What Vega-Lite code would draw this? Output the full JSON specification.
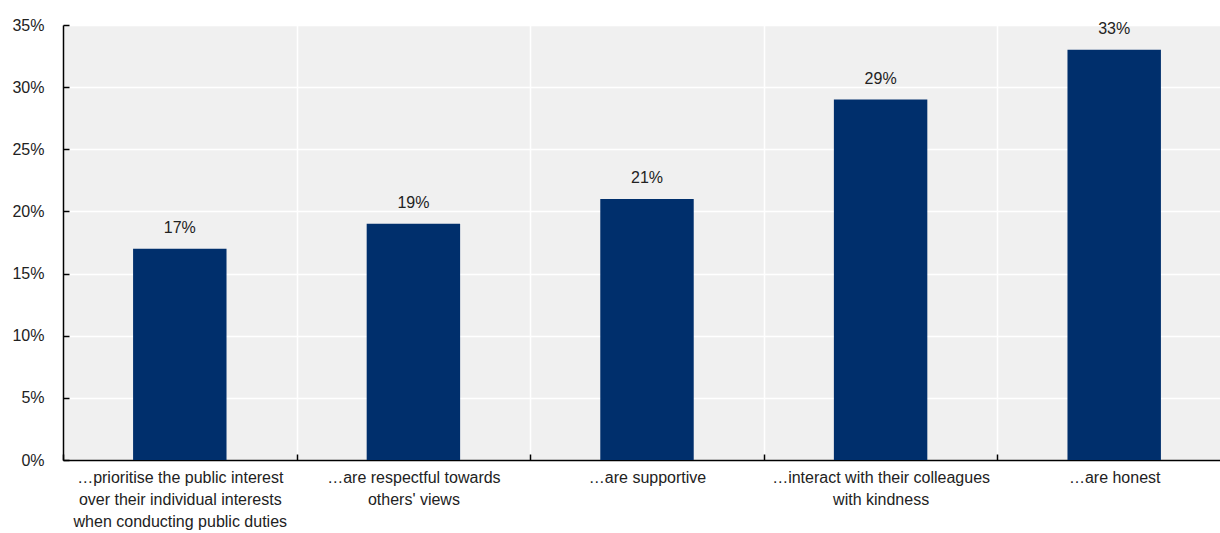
{
  "$schema": "https://vega.github.io/schema/vega-lite/v6.json",
  "width": 1157,
  "height": 435,
  "autosize": {"type": "none"},
  "padding": {"left": 63, "top": 25, "right": 0, "bottom": 73},
  "background": "white",
  "config": {
    "view": {"fill": "#f0f0f0", "stroke": null},
    "font": "Liberation Sans"
  },
  "data": {
    "values": [
      {"category": "…prioritise the public interest over their individual interests when conducting public duties", "value": 0.17},
      {"category": "…are respectful towards others' views", "value": 0.19},
      {"category": "…are supportive", "value": 0.21},
      {"category": "…interact with their colleagues with kindness", "value": 0.29},
      {"category": "…are honest", "value": 0.33}
    ]
  },
  "encoding": {
    "x": {
      "field": "category",
      "type": "nominal",
      "sort": null,
      "scale": {"range": [0, 1168], "paddingInner": 0, "paddingOuter": 0},
      "axis": {
        "title": null,
        "labelAngle": 0,
        "tickBand": "extent",
        "tickSize": -6,
        "tickWidth": 1.5,
        "tickColor": "#000000",
        "domainColor": "#000000",
        "domainWidth": 1.5,
        "grid": true,
        "gridColor": "#ffffff",
        "gridWidth": 1.5,
        "labelFont": "Liberation Sans",
        "labelFontSize": 16,
        "labelColor": "#222222",
        "labelLimit": 0,
        "labelPadding": 15,
        "labelBaseline": "top",
        "labelLineHeight": 22,
        "labelExpr": "datum.value == '…prioritise the public interest over their individual interests when conducting public duties' ? ['…prioritise the public interest', 'over their individual interests', 'when conducting public duties'] : datum.value == \"…are respectful towards others' views\" ? ['…are respectful towards', \"others' views\"] : datum.value == '…interact with their colleagues with kindness' ? ['…interact with their colleagues', 'with kindness'] : datum.value"
      }
    },
    "y": {
      "field": "value",
      "type": "quantitative",
      "scale": {"domain": [0, 0.35], "nice": false},
      "axis": {
        "title": null,
        "values": [0, 0.05, 0.1, 0.15, 0.2, 0.25, 0.3, 0.35],
        "format": ".0%",
        "tickSize": -6,
        "tickWidth": 1.5,
        "tickColor": "#000000",
        "domainColor": "#000000",
        "domainWidth": 1.5,
        "grid": true,
        "gridColor": "#ffffff",
        "gridWidth": 1.5,
        "labelFont": "Liberation Sans",
        "labelFontSize": 16,
        "labelColor": "#222222",
        "labelPadding": 25
      }
    }
  },
  "layer": [
    {
      "mark": {"type": "bar", "width": {"band": 0.4}, "color": "#002f6c"}
    },
    {
      "mark": {"type": "text", "baseline": "alphabetic", "dy": -16, "fontSize": 16, "color": "#222222", "font": "Liberation Sans"},
      "encoding": {
        "text": {"field": "value", "type": "quantitative", "format": ".0%"}
      }
    }
  ]
}
